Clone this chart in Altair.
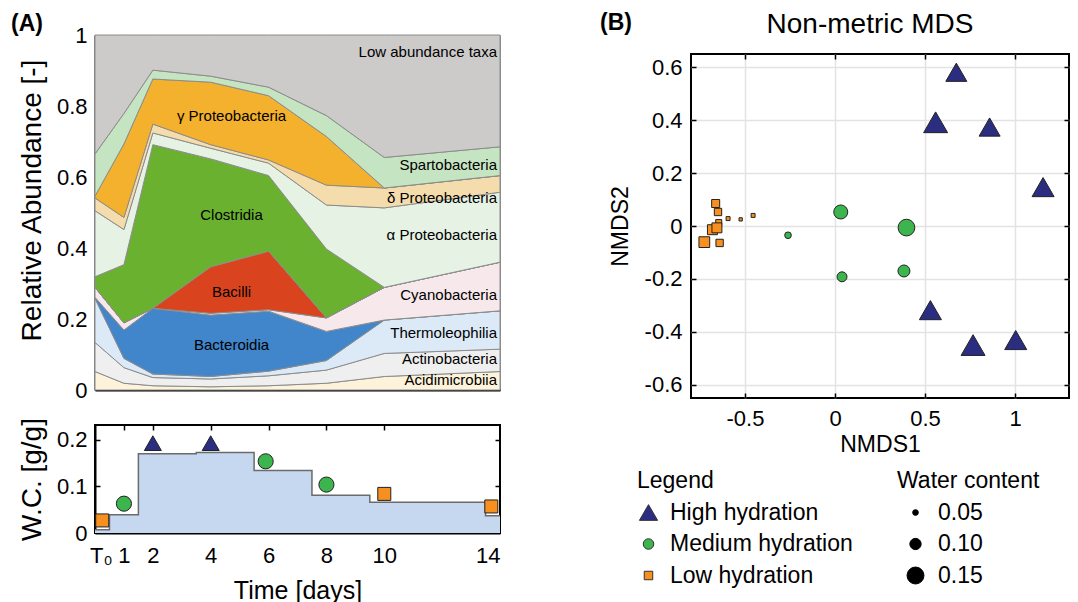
import altair as alt
import pandas as pd

FONT = "Liberation Sans"

# ---------------- Panel A (top): relative abundance ----------------
days = [0, 1, 2, 4, 6, 8, 10, 14]
taxa = ["Acidimicrobiia", "Actinobacteria", "Thermoleophilia", "Bacteroidia",
        "Cyanobacteria", "Bacilli", "Clostridia", "α Proteobacteria",
        "δ Proteobacteria", "γ Proteobacteria", "Spartobacteria", "Low abundance taxa"]
acidimicrobiia = [.052, .019, .012, .009, .012, .019, .038, .052]
actinobacteria = [.082, .044, .023, .022, .028, .037, .065, .063]
thermoleophilia = [.124, .026, .010, .007, .013, .027, .094, .108]
bacteroidia = [.003, .080, .185, .173, .169, .082, .000, .000]
cyanobacteria = [.028, .020, .000, .005, .004, .038, .092, .137]
bacilli = [.000, .000, .000, .131, .165, .000, .000, .000]
clostridia = [.030, .164, .461, .304, .213, .194, .000, .000]
alpha_proteo = [.186, .099, .033, .030, .035, .124, .224, .197]
delta_proteo = [.036, .034, .025, .010, .009, .056, .056, .047]
gamma_proteo = [.005, .207, .127, .176, .181, .137, .000, .000]
spartobacteria = [.119, .086, .025, .017, .024, .059, .086, .081]
low_abundance = [.335, .221, .099, .116, .147, .227, .345, .315]
series = [acidimicrobiia, actinobacteria, thermoleophilia, bacteroidia, cyanobacteria,
          bacilli, clostridia, alpha_proteo, delta_proteo, gamma_proteo,
          spartobacteria, low_abundance]
taxa_colors = ["#FDF3DB", "#EFEFEF", "#DCEAF7", "#4186CA", "#F7E8EB", "#D9441F",
               "#6AB130", "#E6F2E4", "#F5DCAC", "#F4B12D", "#C5E4C1", "#CCCBCA"]

rows = []
for i, (t, vals) in enumerate(zip(taxa, series)):
    for d, v in zip(days, vals):
        rows.append({"day": d, "taxon": t, "value": v, "order": i})
abund = pd.DataFrame(rows)

# label anchors (day, abundance)
center_labels = ["γ Proteobacteria", "Clostridia", "Bacilli", "Bacteroidia"]
center_day = [4.72, 4.72, 4.72, 4.72]
center_val = [0.772, 0.493, 0.276, 0.127]
right_labels = ["Low abundance taxa", "Spartobacteria", "δ Proteobacteria", "α Proteobacteria",
                "Cyanobacteria", "Thermoleophilia", "Actinobacteria", "Acidimicrobiia"]
right_day = [14] * 8
right_val = [0.952, 0.634, 0.541, 0.437, 0.268, 0.161, 0.087, 0.028]

# ---------------- Panel A (bottom): water content ----------------
step_day = [0, 0.5, 1.5, 3.5, 5.5, 7.5, 9.5, 13.5, 14]
step_wc = [0.007, 0.039, 0.170, 0.173, 0.134, 0.081, 0.066, 0.037, 0.037]
wc_day = [0.25, 1, 2, 4, 5.9, 8, 10, 13.7]
wc_val = [0.027, 0.063, 0.193, 0.193, 0.154, 0.104, 0.084, 0.057]
wc_group = ["Low hydration", "Medium hydration", "High hydration", "High hydration",
            "Medium hydration", "Medium hydration", "Low hydration", "Low hydration"]
time_ticks = [0.2, 1, 2, 4, 6, 8, 10, 14]
wc_ticks = [0, 0.1, 0.2]

groups = ["High hydration", "Medium hydration", "Low hydration"]
group_colors = ["#2B2D80", "#3DB54E", "#F7901E"]
group_shapes = ["triangle-up", "circle", "square"]

# ---------------- Panel B: NMDS ----------------
nm_group = ["High hydration"] * 7 + ["Medium hydration"] * 5 + ["Low hydration"] * 10
nm1 = [0.674, 0.559, 0.859, 1.156, 0.530, 0.767, 1.004,
       0.032, 0.397, -0.261, 0.039, 0.383,
       -0.663, -0.650, -0.594, -0.524, -0.455, -0.646, -0.681, -0.656, -0.726, -0.641]
nm2 = [0.581, 0.392, 0.374, 0.147, -0.318, -0.450, -0.431,
       0.053, -0.006, -0.035, -0.192, -0.170,
       0.085, 0.053, 0.028, 0.025, 0.040, 0.013, -0.014, -0.007, -0.061, -0.064]
nm_wc = [0.186, 0.212, 0.186, 0.195, 0.195, 0.212, 0.195,
         0.124, 0.148, 0.059, 0.088, 0.106,
         0.071, 0.065, 0.035, 0.029, 0.035, 0.053, 0.088, 0.088, 0.095, 0.065]
nm1_ticks = [-0.5, 0, 0.5, 1]
nm2_ticks = [-0.6, -0.4, -0.2, 0, 0.2, 0.4, 0.6]
wc_legend_values = [0.05, 0.10, 0.15]

TICK_FS = 22


def inner_ticks(df, xf, yf, xscale, yscale, xvals, yvals, xorient, yorient):
    """Invisible layer whose only purpose is a tick-only axis pair drawn inside the frame."""
    def ax(orient, vals):
        return alt.Axis(orient=orient, values=vals, labels=False, ticks=True, tickSize=5,
                        tickWidth=1.5, tickColor="black", offset=-5, domain=False,
                        grid=False, title=None)
    return alt.Chart(df).mark_point(opacity=0).encode(
        x=alt.X(xf, scale=xscale, axis=ax(xorient, xvals)),
        y=alt.Y(yf, scale=yscale, axis=ax(yorient, yvals)),
    )


# ---------- build panel A top ----------
xA = alt.X("day:Q", scale=alt.Scale(domain=[0, 14], nice=False),
           axis=alt.Axis(labels=False, ticks=False, title=None, grid=False,
                         domainColor="black", domainWidth=2))
area = alt.Chart(abund).mark_area(stroke="#8C8C8C", strokeWidth=1, opacity=1).encode(
    x=xA,
    y=alt.Y("value:Q", stack="zero", scale=alt.Scale(domain=[0, 1], nice=False),
            axis=alt.Axis(values=[0, 0.2, 0.4, 0.6, 0.8, 1], format="~g", ticks=False,
                          grid=False, domainColor="black", domainWidth=2,
                          labelFontSize=TICK_FS, labelPadding=8,
                          title="Relative Abundance [-]", titleFontSize=28,
                          titleFontWeight="normal", titlePadding=10, titleY=165)),
    color=alt.Color("taxon:N", scale=alt.Scale(domain=taxa, range=taxa_colors), legend=None),
    order=alt.Order("order:Q"),
)
cdf = pd.DataFrame({"day": center_day, "val": center_val, "txt": center_labels})
rdf = pd.DataFrame({"day": right_day, "val": right_val, "txt": right_labels})
ctext = alt.Chart(cdf).mark_text(fontSize=15, align="center", baseline="middle", color="black").encode(
    x="day:Q", y="val:Q", text="txt:N")
rtext = alt.Chart(rdf).mark_text(fontSize=15, align="right", baseline="middle", dx=-3, color="black").encode(
    x="day:Q", y="val:Q", text="txt:N")
labA = alt.Chart(pd.DataFrame({"t": ["(A)"]})).mark_text(
    fontSize=23, fontWeight="bold", align="left", baseline="alphabetic").encode(
    text="t:N", x=alt.value(-84), y=alt.value(-4))

A_top = alt.layer(area, ctext, rtext, labA).properties(
    width=405, height=355, view=alt.ViewBackground(stroke="#8C8C8C", strokeWidth=1))

# ---------- build panel A bottom ----------
stepdf = pd.DataFrame({"day": step_day, "wc": step_wc})
wcdf = pd.DataFrame({"day": wc_day, "wc": wc_val, "group": wc_group})
xs_time = alt.Scale(domain=[0, 14], nice=False)
ys_wc = alt.Scale(domain=[0, 0.232], nice=False)
xB = alt.X("day:Q", scale=xs_time,
           axis=alt.Axis(values=time_ticks, labelExpr="datum.value < 0.5 ? 'T₀' : datum.label",
                         ticks=False, grid=False, domainColor="black", domainWidth=2,
                         labelFontSize=TICK_FS, labelPadding=12, title="Time [days]",
                         titleFontSize=25, titleFontWeight="normal", titlePadding=12))
yB = alt.Y("wc:Q", scale=ys_wc,
           axis=alt.Axis(values=wc_ticks, format="~g", ticks=False, grid=False,
                         domainColor="black", domainWidth=2, labelFontSize=TICK_FS,
                         labelPadding=8, title="W.C. [g/g]", titleFontSize=28,
                         titleFontWeight="normal", titlePadding=10))
xN = alt.X("day:Q", scale=xs_time, axis=None)
yN = alt.Y("wc:Q", scale=ys_wc, axis=None)
step_area = alt.Chart(stepdf).mark_area(interpolate="step-after", color="#C5D8F0", opacity=1).encode(x=xB, y=yB)
step_line = alt.Chart(stepdf).mark_line(interpolate="step-after", color="#6B6B6B", strokeWidth=1.5).encode(x=xN, y=yN)
wc_pts = alt.Chart(wcdf).mark_point(filled=True, opacity=1, stroke="#222", strokeWidth=1).encode(
    x=xN, y=yN,
    shape=alt.Shape("group:N", scale=alt.Scale(domain=groups, range=group_shapes), legend=None),
    color=alt.Color("group:N", scale=alt.Scale(domain=groups, range=group_colors), legend=None),
    size=alt.Size("group:N", scale=alt.Scale(domain=groups, range=[289, 169, 110]), legend=None),
)
tkA = inner_ticks(wcdf, "day:Q", "wc:Q", xs_time, ys_wc, time_ticks[1:-1], wc_ticks[1:], "top", "right")
tkA2 = inner_ticks(wcdf, "day:Q", "wc:Q", xs_time, ys_wc, time_ticks[1:-1], wc_ticks[1:], "bottom", "left")
A_bot = alt.layer(step_area, step_line, wc_pts, tkA, tkA2).resolve_axis(
    x="independent", y="independent").properties(
    width=405, height=108, view=alt.ViewBackground(stroke="black", strokeWidth=2))

A = alt.vconcat(A_top, A_bot, spacing=14).resolve_scale(color="independent", x="independent")

# ---------- build panel B ----------
sym_size = alt.ExprRef(expr="datum.value === 'High hydration' ? 330 : datum.value === 'Medium hydration' ? 110 : 72")
shape_legend = alt.Legend(title="Legend", orient="none", legendX=-54, legendY=435,
                          labelOffset=10, labelLimit=400, symbolSize=sym_size)
nmdf = pd.DataFrame({"nm1": nm1, "nm2": nm2, "wc": nm_wc, "group": nm_group})
xs_nm = alt.Scale(domain=[-0.8, 1.3], nice=False)
ys_nm = alt.Scale(domain=[-0.65, 0.65], nice=False)
scatter = alt.Chart(nmdf).mark_point(filled=True, opacity=1, stroke="#222", strokeWidth=1).encode(
    x=alt.X("nm1:Q", scale=xs_nm,
            axis=alt.Axis(values=nm1_ticks, labelExpr="'' + datum.value", ticks=False,
                          gridColor="#E3E3E3", gridWidth=1.5, domain=False,
                          labelFontSize=TICK_FS, labelPadding=10, title="NMDS1",
                          titleFontSize=23, titleFontWeight="normal", titlePadding=4)),
    y=alt.Y("nm2:Q", scale=ys_nm,
            axis=alt.Axis(values=nm2_ticks, labelExpr="'' + datum.value", ticks=False,
                          gridColor="#E3E3E3", gridWidth=1.5, domain=False,
                          labelFontSize=TICK_FS, labelPadding=9, title="NMDS2",
                          titleFontSize=23, titleFontWeight="normal", titlePadding=12)),
    shape=alt.Shape("group:N", scale=alt.Scale(domain=groups, range=group_shapes), legend=shape_legend),
    color=alt.Color("group:N", scale=alt.Scale(domain=groups, range=group_colors), legend=shape_legend),
    size=alt.Size("wc:Q", scale=alt.Scale(type="pow", exponent=2, domain=[0, 0.2], range=[0, 511]),
                  legend=alt.Legend(title="Water content", values=wc_legend_values, format=".2f",
                                    orient="none", legendX=206, legendY=435,
                                    symbolFillColor="black", symbolStrokeColor="black",
                                    symbolOffset=7, labelOffset=11)),
)
tkB = inner_ticks(nmdf, "nm1:Q", "nm2:Q", xs_nm, ys_nm, nm1_ticks, nm2_ticks, "top", "right")
tkB2 = inner_ticks(nmdf, "nm1:Q", "nm2:Q", xs_nm, ys_nm, nm1_ticks, nm2_ticks, "bottom", "left")
B = alt.layer(scatter, tkB, tkB2).resolve_axis(x="independent", y="independent").properties(
    width=378, height=344, view=alt.ViewBackground(stroke="black", strokeWidth=2))

# header strip above panel B: panel letter and title
headB = alt.Chart(pd.DataFrame({"t": ["(B)"]})).mark_text(
    fontSize=23, fontWeight="bold", align="left", baseline="alphabetic").encode(
    text="t:N", x=alt.value(-91), y=alt.value(-5))
headT = alt.Chart(pd.DataFrame({"t": ["Non-metric MDS"]})).mark_text(
    fontSize=28, align="center", baseline="alphabetic").encode(
    text="t:N", x=alt.value(179), y=alt.value(-2))
head = alt.layer(headB, headT).properties(
    width=378, height=1, view=alt.ViewBackground(stroke="transparent"))

B_col = alt.vconcat(head, B, spacing=12)

chart = alt.hconcat(A, B_col, spacing=95).resolve_scale(
    color="independent", shape="independent", size="independent", x="independent", y="independent"
).properties(
    padding={"left": 10, "top": 10, "right": 2, "bottom": 0}
).configure(font=FONT).configure_legend(
    labelFontSize=23, titleFontSize=23, titleFontWeight="normal", titleColor="black",
    labelColor="black", rowPadding=7.5, symbolSize=150, symbolStrokeColor="#333",
    symbolStrokeWidth=1, labelOffset=14, titlePadding=8,
).configure_axis(labelColor="black", titleColor="black")

chart.save("out.html", embed_options={"renderer": "svg", "actions": False})
